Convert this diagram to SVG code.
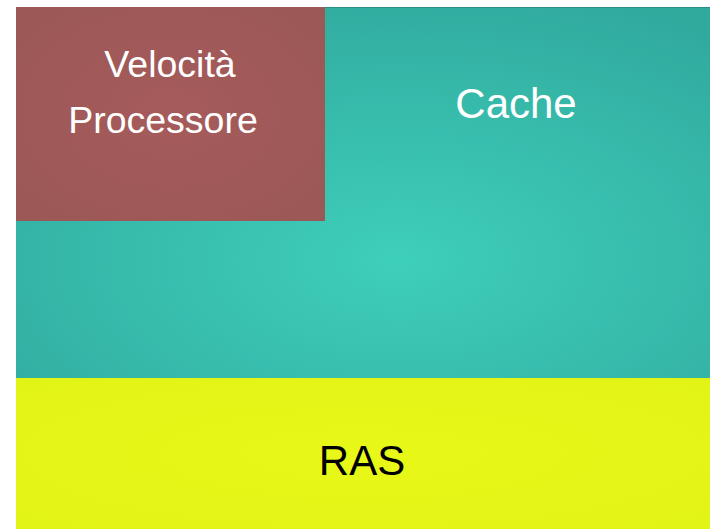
<svg xmlns="http://www.w3.org/2000/svg" width="710" height="529" viewBox="0 0 710 529">
  <defs>
    <radialGradient id="tealFill" cx="0.55" cy="0.68" r="0.75">
      <stop offset="0" stop-color="#3ecfba"/>
      <stop offset="1" stop-color="#31aa9e"/>
    </radialGradient>
    <radialGradient id="brownFill" cx="0.5" cy="0.5" r="0.7">
      <stop offset="0" stop-color="#a65b5b"/>
      <stop offset="1" stop-color="#9a5856"/>
    </radialGradient>
    <radialGradient id="yellowFill" cx="0.5" cy="0.5" r="0.7">
      <stop offset="0" stop-color="#e8f818"/>
      <stop offset="1" stop-color="#e2f316"/>
    </radialGradient>
  </defs>
  <style>
    .label { font-family: "Liberation Sans", Arial, sans-serif; text-anchor: middle; }
    .light { fill: #ffffff; }
    .dark { fill: #000000; }
  </style>
  <rect width="710" height="529" fill="#ffffff"/>
  <g id="cache">
    <rect x="16" y="7" width="694" height="372" fill="url(#tealFill)"/>
    <line x1="16" y1="7.5" x2="710" y2="7.5" stroke="#2c8f86" stroke-width="1"/>
    <text class="label light" x="516" y="118" font-size="42">Cache</text>
  </g>
  <g id="velocita-processore">
    <rect x="16" y="7" width="309" height="214" fill="url(#brownFill)"/>
    <text class="label light" x="170" y="77" font-size="37.5">Velocità</text>
    <text class="label light" x="163" y="133" font-size="37.5">Processore</text>
  </g>
  <g id="ras">
    <rect x="16" y="378" width="694" height="151" fill="url(#yellowFill)"/>
    <text class="label dark" x="362" y="475" font-size="42">RAS</text>
  </g>
</svg>
